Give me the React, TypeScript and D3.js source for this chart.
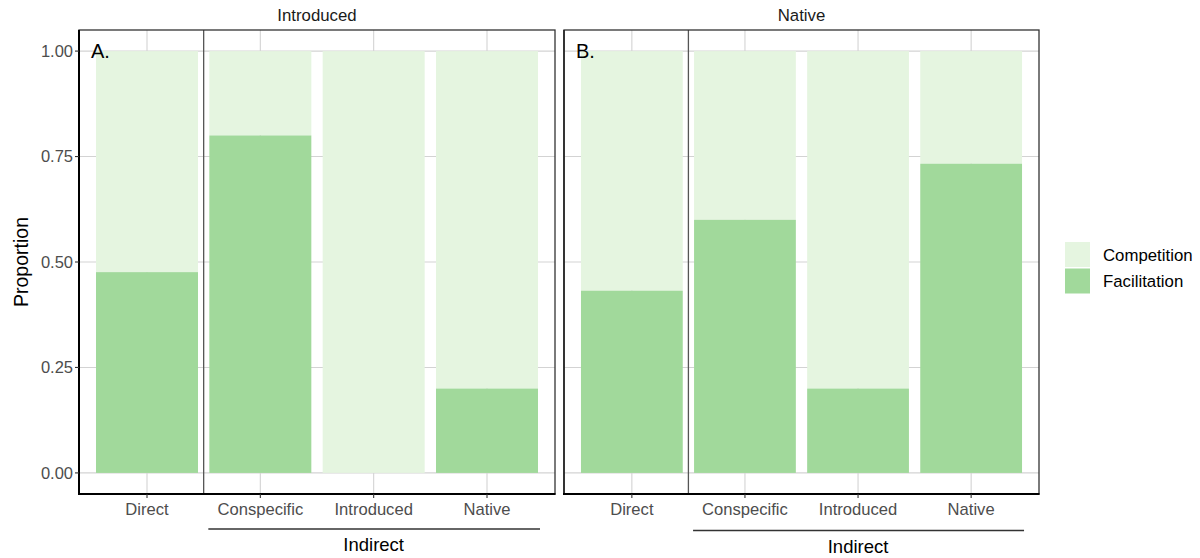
import React from "react";
import * as d3 from "d3";

const categories = ["Direct", "Conspecific", "Introduced", "Native"];
const panels = ["Introduced", "Native"];
const panelLetters = ["A.", "B."];
const facilitationIntroduced = [0.476, 0.8, 0.0, 0.2];
const facilitationNative = [0.432, 0.6, 0.2, 0.733];
const yTicks = [0, 0.25, 0.5, 0.75, 1.0];
const yTickLabels = ["0.00", "0.25", "0.50", "0.75", "1.00"];
const legendLabels = ["Competition", "Facilitation"];
const groupLabel = "Indirect";

const COMP = "#e5f5e0";
const FAC = "#a1d99b";
const FONT = "'Liberation Sans', Arial, Helvetica, sans-serif";

export default function App() {
  React.useEffect(() => {
    document.body.style.margin = "0";
  }, []);
  const W = 1200, H = 558;
  const top = 30, bottom = 494;
  const y = d3.scaleLinear().domain([-0.05, 1.05]).range([bottom, top]);
  const panelX: [number, number][] = [[79, 555], [564, 1039]];
  const data = [facilitationIntroduced, facilitationNative];
  const lineY = [529, 530.5];
  const textY = [545, 546.5];

  return (
    <div style={{ position: "absolute", left: 0, top: 0 }}>
      <svg width={W} height={H} style={{ display: "block" }} fontFamily={FONT}>
        <rect x={0} y={0} width={W} height={H} fill="#fff" />
        {panels.map((p, pi) => {
          const [x0, x1] = panelX[pi];
          const x = d3.scaleLinear().domain([-0.6, categories.length - 0.4]).range([x0, x1]);
          const bw = x(0.45) - x(0);
          const vals = data[pi];
          return (
            <g key={p}>
              {/* strip text */}
              <text x={(x0 + x1) / 2} y={15} dy="0.35em" textAnchor="middle" fontSize={16.8} fill="#1a1a1a">{p}</text>
              {/* grid */}
              {yTicks.map((t) => (
                <line key={"gy" + t} x1={x0} x2={x1} y1={y(t)} y2={y(t)} stroke="#d3d3d3" strokeWidth={1.1} />
              ))}
              {categories.map((c, i) => (
                <line key={"gx" + c} x1={x(i)} x2={x(i)} y1={top} y2={bottom} stroke="#d3d3d3" strokeWidth={1.1} />
              ))}
              {/* bars */}
              {categories.map((c, i) => (
                <g key={"b" + c}>
                  <rect x={x(i) - bw} width={2 * bw} y={y(1)} height={y(vals[i]) - y(1)} fill={COMP} />
                  {vals[i] > 0 && (
                    <rect x={x(i) - bw} width={2 * bw} y={y(vals[i])} height={y(0) - y(vals[i])} fill={FAC} />
                  )}
                </g>
              ))}
              {/* separator */}
              <line x1={x(0.5)} x2={x(0.5)} y1={top} y2={bottom} stroke="#555" strokeWidth={1.3} />
              {/* panel border */}
              <rect x={x0} y={top} width={x1 - x0} height={bottom - top} fill="none" stroke="#333" strokeWidth={1.3} />
              {/* axis lines */}
              <line x1={x0} x2={x0} y1={top} y2={bottom + 1} stroke={pi === 0 ? "#000" : "#222"} strokeWidth={pi === 0 ? 2 : 1.6} />
              <line x1={x0 - 1} x2={x1 + 0.5} y1={bottom} y2={bottom} stroke="#000" strokeWidth={2} />
              {/* y ticks */}
              {pi === 0 && yTicks.map((t, ti) => (
                <g key={"yt" + t}>
                  <line x1={x0 - 4} x2={x0} y1={y(t)} y2={y(t)} stroke="#333" strokeWidth={1.1} />
                  <text x={x0 - 6} y={y(t)} dy="0.35em" textAnchor="end" fontSize={16.5} fill="#4d4d4d">{yTickLabels[ti]}</text>
                </g>
              ))}
              {/* x ticks */}
              {categories.map((c, i) => (
                <g key={"xt" + c}>
                  <line x1={x(i)} x2={x(i)} y1={bottom} y2={bottom + 4} stroke="#333" strokeWidth={1.1} />
                  <text x={x(i)} y={509} dy="0.35em" textAnchor="middle" fontSize={16.6} fill="#4d4d4d">{c}</text>
                </g>
              ))}
              {/* group bracket */}
              <line x1={x(1) - bw - 1} x2={x(3) + bw + 2} y1={lineY[pi]} y2={lineY[pi]} stroke="#333" strokeWidth={1.3} />
              <text x={x(2)} y={textY[pi]} dy="0.35em" textAnchor="middle" fontSize={18.5} fill="#000">{groupLabel}</text>
              {/* letter */}
              <text x={x0 + 12} y={y(1) + 7} fontSize={20} fill="#000">{panelLetters[pi]}</text>
            </g>
          );
        })}
        {/* y title */}
        <text transform={`translate(21,${(y(0) + y(1)) / 2}) rotate(-90)`} textAnchor="middle" dy="0.35em" fontSize={19.5} fill="#000">Proportion</text>
        {/* legend */}
        {legendLabels.map((l, i) => (
          <g key={l}>
            <rect x={1065} y={242 + i * 26.5} width={25} height={25} fill={i === 0 ? COMP : FAC} />
            <text x={1103} y={255 + i * 26.5} dy="0.35em" fontSize={16.8} fill="#000">{l}</text>
          </g>
        ))}
      </svg>
    </div>
  );
}
